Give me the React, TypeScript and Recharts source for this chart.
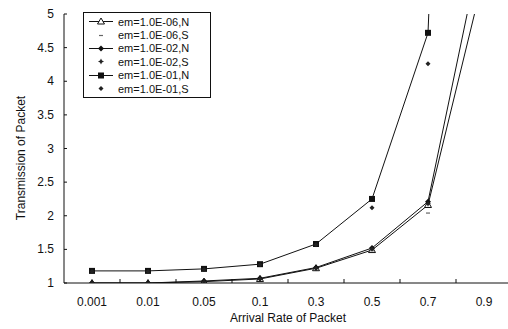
import { LineChart, Line, XAxis, YAxis, Legend } from 'recharts';

const rates = ['0.001', '0.01', '0.05', '0.1', '0.3', '0.5', '0.7', '0.9'];
const em06N = [1.0, 1.0, 1.02, 1.06, 1.22, 1.49, 2.16, 5.58];
const em06S = [1.0, 1.0, 1.01, 1.05, 1.21, 1.48, 2.04, 5.5];
const em02N = [1.0, 1.0, 1.03, 1.07, 1.23, 1.52, 2.21, 6.2];
const em02S = [1.0, 1.0, 1.02, 1.06, 1.22, 1.51, 2.18, 6.1];
const em01N = [1.18, 1.18, 1.21, 1.28, 1.58, 2.25, 4.72, 25];
const em01S = [1.17, 1.17, 1.2, 1.27, 1.57, 2.12, 4.26, 24];
const yTicks = [1, 1.5, 2, 2.5, 3, 3.5, 4, 4.5, 5];

const data = rates.map((r, i) => ({
  rate: r,
  e06N: em06N[i],
  e06S: em06S[i],
  e02N: em02N[i],
  e02S: em02S[i],
  e01N: em01N[i],
  e01S: em01S[i],
}));

type Mk = 'tri' | 'dash' | 'diamond' | 'star' | 'square' | 'dot';

function marker(kind: Mk, cx: number, cy: number, key?: string | number) {
  switch (kind) {
    case 'tri':
      return <path key={key} d={`M${cx},${cy - 3.5}L${cx + 3.5},${cy + 2.5}L${cx - 3.5},${cy + 2.5}Z`} fill="#fff" stroke="#111" strokeWidth={1} />;
    case 'dash':
      return <line key={key} x1={cx - 2} x2={cx + 2} y1={cy} y2={cy} stroke="#666" strokeWidth={1.2} />;
    case 'diamond':
      return <path key={key} d={`M${cx},${cy - 3}L${cx + 3},${cy}L${cx},${cy + 3}L${cx - 3},${cy}Z`} fill="#111" />;
    case 'star':
      return <path key={key} d={`M${cx},${cy - 3}L${cx + 1},${cy - 1}L${cx + 3},${cy}L${cx + 1},${cy + 1}L${cx},${cy + 3}L${cx - 1},${cy + 1}L${cx - 3},${cy}L${cx - 1},${cy - 1}Z`} fill="#222" />;
    case 'square':
      return <rect key={key} x={cx - 3} y={cy - 3} width={6} height={6} fill="#111" />;
    default:
      return <path key={key} d={`M${cx},${cy - 2.5}L${cx + 2.5},${cy}L${cx},${cy + 2.5}L${cx - 2.5},${cy}Z`} fill="#222" />;
  }
}

const series: { key: string; name: string; mk: Mk; line: boolean }[] = [
  { key: 'e06N', name: 'em=1.0E-06,N', mk: 'tri', line: true },
  { key: 'e06S', name: 'em=1.0E-06,S', mk: 'dash', line: false },
  { key: 'e02N', name: 'em=1.0E-02,N', mk: 'diamond', line: true },
  { key: 'e02S', name: 'em=1.0E-02,S', mk: 'star', line: false },
  { key: 'e01N', name: 'em=1.0E-01,N', mk: 'square', line: true },
  { key: 'e01S', name: 'em=1.0E-01,S', mk: 'dot', line: false },
];

const font = '"Liberation Sans", Arial, sans-serif';

function BoxLegend() {
  return (
    <div style={{ border: '1px solid #111', background: '#fff', padding: '2px 0 2px 4px', width: 122, fontFamily: font, fontSize: 11, color: '#111', boxSizing: 'content-box' }}>
      {series.map(s => (
        <div key={s.key} style={{ display: 'flex', alignItems: 'center', height: 13.4, whiteSpace: 'nowrap' }}>
          <svg width={29} height={13}>
            {s.line && <line x1={1} x2={25} y1={6.5} y2={6.5} stroke="#111" strokeWidth={1} />}
            {marker(s.mk, 13, 6.5)}
          </svg>
          <span style={{ marginLeft: 1 }}>{s.name}</span>
        </div>
      ))}
    </div>
  );
}

// band is 56px wide; category ticks sit at the boundaries
function XTick(props: any) {
  const { x, y, payload, index } = props;
  return (
    <g>
      {index > 0 && <line x1={x - 28} x2={x - 28} y1={y} y2={y - 4} stroke="#111" />}
      <text x={x} y={y + 23} textAnchor="middle" fontFamily={font} fontSize={12} fill="#111">
        {payload.value}
      </text>
    </g>
  );
}

function YTick(props: any) {
  const { x, y, payload } = props;
  return (
    <g>
      <line x1={x + 10} x2={x + 13} y1={y} y2={y} stroke="#111" />
      <text x={x} y={y + 4} textAnchor="end" fontFamily={font} fontSize={12} fill="#111">
        {payload.value}
      </text>
    </g>
  );
}

function YTitle() {
  return (
    <text x={21} y={158} transform="rotate(-90, 21, 158)" textAnchor="middle" dominantBaseline="central" fontFamily={font} fontSize={12} fill="#111">
      Transmission of Packet
    </text>
  );
}

export default function App() {
  return (
    <div style={{ position: 'absolute', left: 0, top: 0, width: 508, height: 329, overflow: 'hidden', background: '#fff' }}>
      <LineChart width={512} height={329} data={data} margin={{ top: 14, right: 0, bottom: 0, left: 0 }}>
        <XAxis
          dataKey="rate"
          height={46}
          padding={{ left: 28, right: 28 }}
          tickLine={false}
          tickSize={0}
          tickMargin={0}
          stroke="#111"
          tick={<XTick />}
          interval={0}
          label={{ value: 'Arrival Rate of Packet', position: 'insideBottom', offset: 7, fill: '#111', fontFamily: font, fontSize: 12 }}
        />
        <YAxis
          type="number"
          domain={[1, 5]}
          ticks={yTicks}
          allowDataOverflow
          width={64}
          stroke="#111"
          tickLine={false}
          tickSize={0}
          tickMargin={10}
          tick={<YTick />}
          label={<YTitle />}
        />
        <Legend
          layout="horizontal"
          verticalAlign="middle"
          align="center"
          wrapperStyle={{ left: 83, top: 12, width: 128 }}
          content={() => <BoxLegend />}
        />
        {series.map(s => (
          <Line
            key={s.key}
            dataKey={s.key}
            name={s.name}
            type="linear"
            stroke={s.line ? '#111' : 'none'}
            strokeWidth={1}
            isAnimationActive={false}
            activeDot={false}
            dot={(p: any) => marker(s.mk, p.cx, p.cy, `${s.key}-${p.index}`)}
          />
        ))}
      </LineChart>
    </div>
  );
}
